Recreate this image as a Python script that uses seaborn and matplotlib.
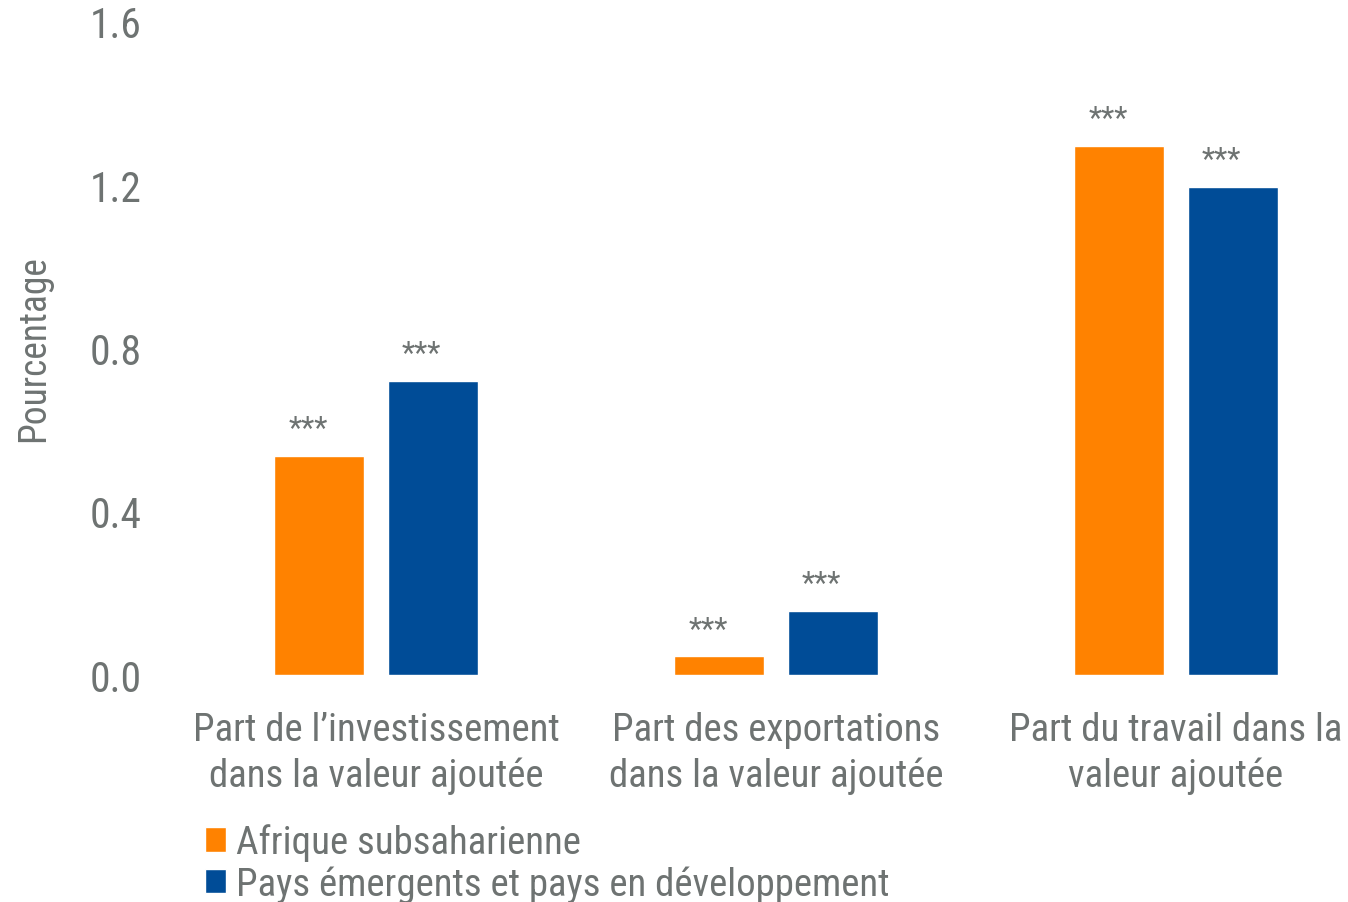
import matplotlib
matplotlib.use("Agg")
import matplotlib.pyplot as plt
from matplotlib import font_manager
import seaborn as sns
import pandas as pd

categories = ["Part de l\u2019investissement\ndans la valeur ajoutée",
              "Part des exportations\ndans la valeur ajoutée",
              "Part du travail dans la\nvaleur ajoutée"]
series_names = ["Afrique subsaharienne", "Pays émergents et pays en développement"]
ssa_values = [0.536, 0.046, 1.295]
emde_values = [0.72, 0.157, 1.195]
significance = ["***", "***", "***"]
yticks = [0.0, 0.4, 0.8, 1.2, 1.6]

colors = ["#FF8200", "#004C97"]
text_color = "#6E7372"

sns.set_theme(style="white")
avail = {f.name for f in font_manager.fontManager.ttflist}
fam = None
for cand in ["Liberation Sans Narrow", "Roboto Condensed", "Liberation Sans", "DejaVu Sans"]:
    if cand in avail:
        fam = cand
        break
plt.rcParams["font.family"] = [fam, "DejaVu Sans"]

df = pd.DataFrame({
    "cat": categories * 2,
    "series": [series_names[0]] * 3 + [series_names[1]] * 3,
    "val": ssa_values + emde_values,
})

fig = plt.figure(figsize=(13.48, 9.03), dpi=100)
ax = fig.add_axes([0.1306, 0.2514, 0.8694, 0.7242])
sns.barplot(data=df, x="cat", y="val", hue="series", palette=colors,
            width=0.568, gap=0.208, ax=ax, saturation=1, errorbar=None)

ax.set_xlim(-0.5, 2.43)
ax.set_ylim(0, 1.6)
ax.set_yticks(yticks)
ax.set_yticklabels([f"{t:.1f}" for t in yticks])
for s in ax.spines.values():
    s.set_visible(False)
ax.tick_params(axis="y", length=0, pad=25, labelsize=30, labelcolor=text_color)
ax.tick_params(axis="x", length=0, pad=26, labelsize=28, labelcolor=text_color)
for lbl in ax.get_xticklabels():
    lbl.set_linespacing(1.3)
ax.set_xlabel("")
ax.set_ylabel("Pourcentage", fontsize=27, color=text_color, labelpad=27)

for cont in ax.containers:
    for bar, s in zip(cont, significance):
        ax.annotate(s, (bar.get_x() + bar.get_width() / 2, bar.get_height()),
                    xytext=(-8, 9), textcoords="offset points",
                    ha="center", va="bottom", fontsize=22, color=text_color)

handles, labels = ax.get_legend_handles_labels()
ax.legend(handles, labels, loc="upper left", bbox_to_anchor=(0.152, 0.087),
          bbox_transform=fig.transFigure, frameon=False, fontsize=28,
          labelcolor=text_color, handlelength=0.55, handleheight=0.6,
          handletextpad=0.25, labelspacing=0.1, borderpad=0, borderaxespad=0)

fig.savefig("out.png", dpi=100)
